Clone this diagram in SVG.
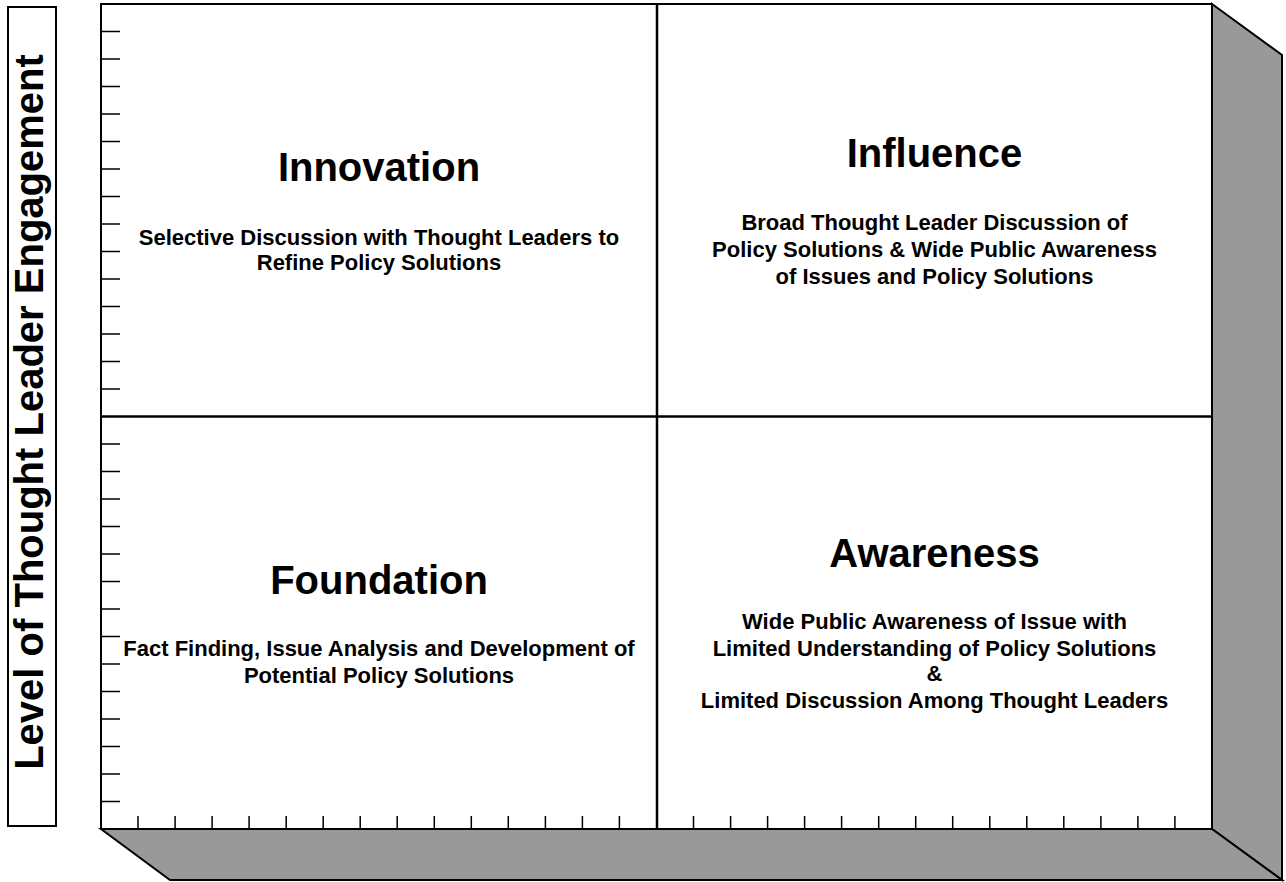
<svg xmlns="http://www.w3.org/2000/svg" width="1286" height="882" viewBox="0 0 1286 882">
<style>
.face{fill:#999999;stroke:#000;stroke-width:2;stroke-linejoin:miter}
.frame{fill:#fff;stroke:#000;stroke-width:2}
.div{stroke:#000;stroke-width:2.5}
.tick{stroke:#000;stroke-width:1.5}
.title{font-family:"Liberation Sans",Arial,sans-serif;font-weight:bold;font-size:40px;text-anchor:middle;fill:#000}
.sub{font-family:"Liberation Sans",Arial,sans-serif;font-weight:bold;font-size:22px;text-anchor:middle;fill:#000}
.axis{font-family:"Liberation Sans",Arial,sans-serif;font-weight:bold;font-size:40px;text-anchor:middle;fill:#000}
</style>
<rect width="1286" height="882" fill="#fff"/>
<g id="depth">
<polygon class="face" points="1212,4 1282,55 1282,880 1212,829"/>
<polygon class="face" points="101,829 1212,829 1282,880 170,880"/>
</g>
<g id="frame">
<rect class="frame" x="101" y="4" width="1111" height="825"/>
</g>
<g id="connectors">
<line class="div" x1="657" y1="4" x2="657" y2="829"/>
<line class="div" x1="101" y1="416.5" x2="1212" y2="416.5"/>
</g>
<g id="ticks">
<path class="tick" d="M101,31.5h19M101,59h19M101,86.5h19M101,114h19M101,141.5h19M101,169h19M101,196.5h19M101,224h19M101,251.5h19M101,279h19M101,306.5h19M101,334h19M101,361.5h19M101,389h19M101,444h19M101,471.5h19M101,499h19M101,526.5h19M101,554h19M101,581.5h19M101,609h19M101,636.5h19M101,664h19M101,691.5h19M101,719h19M101,746.5h19M101,774h19M101,801.5h19"/>
<path class="tick" d="M138,829v-13M175.1,829v-13M212.1,829v-13M249.1,829v-13M286.2,829v-13M323.2,829v-13M360.2,829v-13M397.2,829v-13M434.3,829v-13M471.3,829v-13M508.3,829v-13M545.4,829v-13M582.4,829v-13M619.4,829v-13M693.5,829v-13M730.6,829v-13M767.6,829v-13M804.6,829v-13M841.6,829v-13M878.7,829v-13M915.7,829v-13M952.7,829v-13M989.8,829v-13M1026.8,829v-13M1063.8,829v-13M1100.9,829v-13M1137.9,829v-13M1174.9,829v-13"/>
</g>
<g id="axis-label">
<rect class="frame" x="8" y="7" width="48" height="819"/>
<text class="axis" transform="translate(43,412) rotate(-90)">Level of Thought Leader Engagement</text>
</g>
<g id="innovation">
<text class="title" x="379" y="181">Innovation</text>
<text class="sub" x="379" y="245">Selective Discussion with Thought Leaders to</text>
<text class="sub" x="379" y="270">Refine Policy Solutions</text>
</g>
<g id="influence">
<text class="title" x="934.5" y="167">Influence</text>
<text class="sub" x="934.5" y="230">Broad Thought Leader Discussion of</text>
<text class="sub" x="934.5" y="257">Policy Solutions &amp; Wide Public Awareness</text>
<text class="sub" x="934.5" y="284">of Issues and Policy Solutions</text>
</g>
<g id="foundation">
<text class="title" x="379" y="594">Foundation</text>
<text class="sub" x="379" y="656">Fact Finding, Issue Analysis and Development of</text>
<text class="sub" x="379" y="683">Potential Policy Solutions</text>
</g>
<g id="awareness">
<text class="title" x="934.5" y="567">Awareness</text>
<text class="sub" x="934.5" y="629">Wide Public Awareness of Issue with</text>
<text class="sub" x="934.5" y="656">Limited Understanding of Policy Solutions</text>
<text class="sub" x="934.5" y="681">&amp;</text>
<text class="sub" x="934.5" y="708">Limited Discussion Among Thought Leaders</text>
</g>
</svg>
